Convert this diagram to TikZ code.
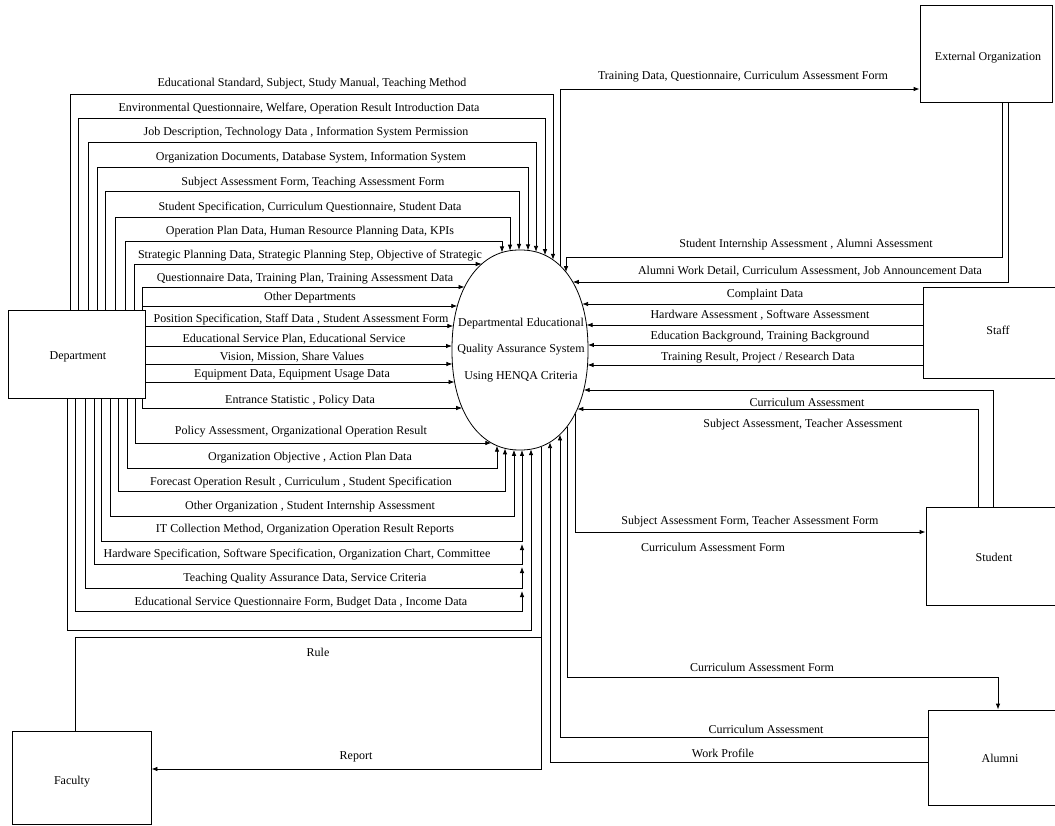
\documentclass[tikz,border=0pt]{standalone}
\usepackage{fontspec}
\setmainfont{Liberation Serif}
\usetikzlibrary{arrows.meta}
% border of the process oval (super-ellipse n=2.2, centre 520/350, half axes 68/100)
\newcommand\ELx[1]{\pgfmathsetmacro\elx{520-68*(1-(abs(#1-350)/100)^2.2)^0.4545}}
\newcommand\ERx[1]{\pgfmathsetmacro\elx{520+68*(1-(abs(#1-350)/100)^2.2)^0.4545}}
\newcommand\ETy[1]{\pgfmathsetmacro\ely{350-100*(1-(abs(#1-520)/68)^2.2)^0.4545}}
\newcommand\EBy[1]{\pgfmathsetmacro\ely{350+100*(1-(abs(#1-520)/68)^2.2)^0.4545}}
\begin{document}
\begin{tikzpicture}[x=1pt,y=-1pt,line width=0.8pt,
  >={Latex[length=6pt,width=4.5pt]},
  lab/.style={font=\fontsize{12}{13}\selectfont,inner sep=0pt},
  box/.style={draw,rectangle,inner sep=0pt},
  flow/.style={draw,->},
  link/.style={draw}]
\useasboundingbox (0,0) rectangle (1055,826);
\clip (0,0) rectangle (1055,826);
\fill[white] (0,0) rectangle (1055,826);

% ---------- entities ----------
\node[box,minimum width=137pt,minimum height=88pt] (dept) at (76.5,354) {};
\node[lab] (deptT) at (78,357) {Department};
\node[box,minimum width=132pt,minimum height=97pt] (ext) at (986,53.5) {};
\node[lab] (extT) at (988,58) {External Organization};
\node[box,minimum width=139pt,minimum height=91pt] (staff) at (992.5,332.5) {};
\node[lab] (staffT) at (998,330) {Staff};
\node[box,minimum width=136pt,minimum height=98pt] (student) at (994,556) {};
\node[lab] (studentT) at (994,557) {Student};
\node[box,minimum width=134pt,minimum height=95pt] (alumni) at (995,757.5) {};
\node[lab] (alumniT) at (1000,758) {Alumni};
\node[box,minimum width=139pt,minimum height=93pt] (faculty) at (81.5,777.5) {};
\node[lab] (facultyT) at (72,782) {Faculty};

% ---------- process ----------
\draw plot[domain=0:360,samples=240,smooth]
  ({520+68*cos(\x)*(abs(cos(\x))+0.00001)^(-0.0909)},
   {350-100*sin(\x)*(abs(sin(\x))+0.00001)^(-0.0909)});
\node[lab,align=center,font=\fontsize{12}{26.5}\selectfont] (sys) at (521,350)
  {Departmental Educational\\Quality Assurance System\\Using HENQA Criteria};

% ---------- Department: loops over the top into the oval ----------
\foreach \lx/\ly/\rx/\tx/\ty/\t in {
 70/94/553/312/84/{Educational Standard, Subject, Study Manual, Teaching Method},
 78/118/545/299/109/{Environmental Questionnaire, Welfare, Operation Result Introduction Data},
 88/142/536/306/133/{Job Description, Technology Data , Information System Permission},
 97/167/528/311/158/{Organization Documents, Database System, Information System},
 105/191/519/313/183/{Subject Assessment Form, Teaching Assessment Form},
 115/217/510/310/208/{Student Specification, Curriculum Questionnaire, Student Data},
 125/241/502/310/232/{Operation Plan Data, Human Resource Planning Data, KPIs}}
{\ETy{\rx}
 \draw[->] (\lx,0 |- dept.north) -- (\lx,\ly) -- (\rx,\ly) -- (\rx,\ely);
 \node[lab] at (\tx,\ty) {\t};}

\foreach \lx/\ly/\tx/\ty/\t in {
 134/264/310/256/{Strategic Planning Data, Strategic Planning Step, Objective of Strategic},
 142/287/305/279/{Questionnaire Data, Training Plan, Training Assessment Data}}
{\ELx{\ly}
 \draw[->] (\lx,0 |- dept.north) -- (\lx,\ly) -- (\elx,\ly);
 \node[lab] at (\tx,\ty) {\t};}

\ELx{306}
\coordinate (od) at (142,306);
\draw[->] (od) -- (\elx,306);
\node[lab] (odT) at (310,298) {Other Departments};

% ---------- Department: straight flows from the right side ----------
\foreach \ly/\tx/\ty/\t in {
 326/301/320/{Position Specification, Staff Data , Student Assessment Form},
 346/294/339/{Educational Service Plan, Educational Service},
 364/292/357/{Vision, Mission, Share Values},
 382/292/375/{Equipment Data, Equipment Usage Data}}
{\ELx{\ly}
 \draw[->] (dept.east |- 0,\ly) -- (\elx,\ly);
 \node[lab] at (\tx,\ty) {\t};}

\ELx{408}
\draw[->] (142,0 |- dept.south) -- (142,408) -- (\elx,408);
\node[lab] (esT) at (300,401) {Entrance Statistic , Policy Data};

% ---------- Department: loops under the bottom into the oval ----------
\ELx{443}
\draw[->] (135,0 |- dept.south) -- (135,443) -- (\elx,443);
\node[lab] (paT) at (301,432) {Policy Assessment, Organizational Operation Result};

\foreach \lx/\ly/\rx/\tx/\ty/\t in {
 127/468/497/310/458/{Organization Objective , Action Plan Data},
 118/491/505/301/483/{Forecast Operation Result , Curriculum , Student Specification},
 110/516/514/310/507/{Other Organization , Student Internship Assessment},
 101/541/522/305/530/{IT Collection Method, Organization Operation Result Reports}}
{\EBy{\rx}
 \draw[->] (\lx,0 |- dept.south) -- (\lx,\ly) -- (\rx,\ly) -- (\rx,\ely);
 \node[lab] at (\tx,\ty) {\t};}

\foreach \lx/\ly/\ey/\tx/\ty/\t in {
 94/564/544/297/555/{Hardware Specification, Software Specification, Organization Chart, Committee},
 85/588/567/305/579/{Teaching Quality Assurance Data, Service Criteria},
 75/611/591/301/603/{Educational Service Questionnaire Form, Budget Data , Income Data}}
{\draw[->] (\lx,0 |- dept.south) -- (\lx,\ly) -- (522,\ly) -- (522,\ey);
 \node[lab] at (\tx,\ty) {\t};}

\EBy{531}
\draw[->] (67,0 |- dept.south) -- (67,630) -- (531,630) -- (531,\ely);

% ---------- Faculty ----------
\EBy{541}
\coordinate (rj) at (541,637);
\draw (75,0 |- faculty.north) -- (75,637) -- (rj);
\node[lab] (ruleT) at (318,652) {Rule};
\draw[->] (541,\ely) -- (541,769) -- (faculty.east |- 0,769);
\node[lab] (repT) at (356,757) {Report};

% ---------- External Organization ----------
\ETy{560}
\draw[->] (560,\ely) -- (560,89) -- (ext.west |- 0,89);
\node[lab] (tdT) at (743,77) {Training Data, Questionnaire, Curriculum Assessment Form};
\ETy{566}
\draw[->] (1002,0 |- ext.south) -- (1002,257) -- (566,257) -- (566,\ely);
\node[lab] (siT) at (806,245) {Student Internship Assessment , Alumni Assessment};
\ERx{282}
\draw[->] (1008,0 |- ext.south) -- (1008,282) -- (\elx,282);
\node[lab] (awT) at (810,271) {Alumni Work Detail, Curriculum Assessment, Job Announcement Data};

% ---------- Staff ----------
\foreach \ly/\tx/\ty/\t in {
 304/765/295/{Complaint Data},
 325/760/315/{Hardware Assessment , Software Assessment},
 345/760/337/{Education Background, Training Background},
 365/758/358/{Training Result, Project / Research Data}}
{\ERx{\ly}
 \draw[->] (staff.west |- 0,\ly) -- (\elx,\ly);
 \node[lab] at (\tx,\ty) {\t};}

% ---------- Student ----------
\ERx{390}
\draw[->] (993,0 |- student.north) -- (993,390) -- (\elx,390);
\node[lab] (caT) at (807,402) {Curriculum Assessment};
\ERx{409}
\draw[->] (978,0 |- student.north) -- (978,409) -- (\elx,409);
\node[lab] (saT) at (803,425) {Subject Assessment, Teacher Assessment};
\EBy{575}
\draw[->] (575,\ely) -- (575,532) -- (student.west |- 0,532);
\node[lab] (safT) at (750,522) {Subject Assessment Form, Teacher Assessment Form};
\node[lab] (cafT) at (713,547) {Curriculum Assessment Form};

% ---------- Alumni ----------
\EBy{567}
\draw[->] (567,\ely) -- (567,677) -- (998,677) -- (998,0 |- alumni.north);
\node[lab] (caf2T) at (762,667) {Curriculum Assessment Form};
\EBy{560}
\draw[->] (alumni.west |- 0,737) -- (560,737) -- (560,\ely);
\node[lab] (ca2T) at (766,729) {Curriculum Assessment};
\EBy{550}
\draw[->] (alumni.west |- 0,762) -- (550,762) -- (550,\ely);
\node[lab] (wpT) at (723,753) {Work Profile};
\end{tikzpicture}
\end{document}
